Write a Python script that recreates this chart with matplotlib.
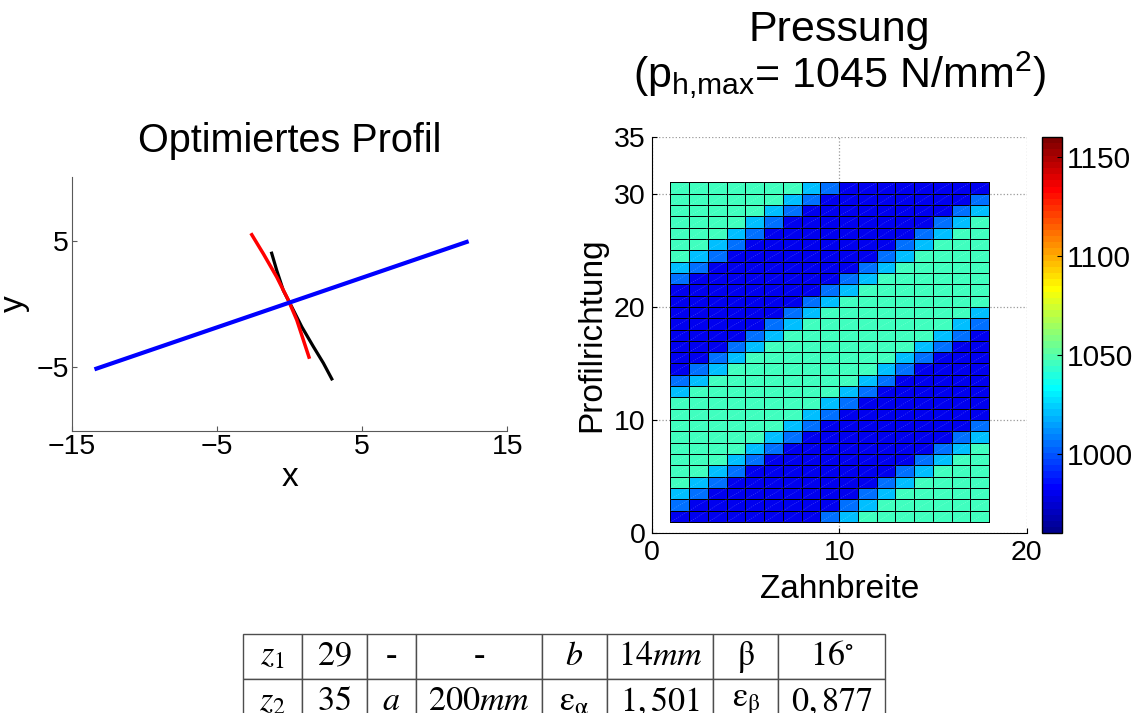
import numpy as np
import matplotlib
matplotlib.use('Agg')
import matplotlib.pyplot as plt
from matplotlib.colors import ListedColormap

plt.rcParams['font.family'] = ['Liberation Sans', 'DejaVu Sans']
plt.rcParams['mathtext.fontset'] = 'custom'
plt.rcParams['mathtext.rm'] = 'Liberation Sans'
plt.rcParams['mathtext.it'] = 'Liberation Sans:italic'
plt.rcParams['mathtext.bf'] = 'Liberation Sans:bold'
plt.rcParams['font.size'] = 20.5

# --- left plot: optimised profile ---
flank_black_x = [-1.23, -0.88, -0.43, 0.15, 0.84, 1.64, 2.33, 2.91]
flank_black_y = [4.01, 2.65, 1.08, -0.22, -1.79, -3.36, -4.66, -5.91]
flank_red_x = [-2.60, -1.80, -0.88, -0.08, 0.50, 0.95, 1.34]
flank_red_y = [5.47, 3.96, 2.13, 0.30, -1.26, -2.83, -4.19]
action_line_x = [-13.3, 12.2]
action_line_y = [-5.1, 4.9]

# --- right plot: pressure map (N/mm^2) ---
zahnbreite = np.arange(1, 19)        # cell edges along face width
profilrichtung = np.arange(1, 32)    # cell edges along profile
pressure_levels = {'D': 980, 'M': 1004, 'L': 1022, 'G': 1045}
# top row first
pressure_rows = [
    'GGGGGGGLMDDDDDDDD',
    'GGGGGGLMDDDDDDDDM',
    'GGGGGLMDDDDDDDDML',
    'GGGGLMDDDDDDDDMLG',
    'GGGLMDDDDDDDDMLGG',
    'GGLMDDDDDDDDMLGGG',
    'GLMDDDDDDDDMLGGGG',
    'LMDDDDDDDDMLGGGGG',
    'MDDDDDDDDMLGGGGGG',
    'DDDDDDDDMLGGGGGGG',
    'DDDDDDDMLGGGGGGGG',
    'DDDDDDMLGGGGGGGGL',
    'DDDDDMLGGGGGGGGLM',
    'DDDDMLGGGGGGGGLMD',
    'DDDMLGGGGGGGGLMDD',
    'DDMLGGGGGGGGLMDDD',
    'DMLGGGGGGGGLMDDDD',
    'MLGGGGGGGGLMDDDDD',
    'LGGGGGGGGLMDDDDDD',
    'GGGGGGGGLMDDDDDDD',
    'GGGGGGGLMDDDDDDDD',
    'GGGGGGLMDDDDDDDDM',
    'GGGGGLMDDDDDDDDML',
    'GGGGLMDDDDDDDDMLG',
    'GGGLMDDDDDDDDMLGG',
    'GGLMDDDDDDDDMLGGG',
    'GLMDDDDDDDDMLGGGG',
    'LMDDDDDDDDMLGGGGG',
    'MDDDDDDDDMLGGGGGG',
    'DDDDDDDDMLGGGGGGG',
]
p_min, p_max = 960, 1160
p_h_max = 1045
cbar_ticks = [1000, 1050, 1100, 1150]

# --- gear data table ---
table_row1 = [r'$z_1$', r'$29$', '-', '-', r'$b$', r'$14mm$',
              r'$\mathrm{\beta}$', r'$16^{\circ}$']
table_row2 = [r'$z_2$', r'$35$', r'$a$', r'$200mm$',
              r'$\mathrm{\varepsilon}_{\mathrm{\alpha}}$', r'$1,501$',
              r'$\mathrm{\varepsilon}_{\mathrm{\beta}}$', r'$0,877$']


def matlab_jet(n=64):
    # same colour steps as MATLAB's jet(n)
    m = int(np.ceil(n / 4))
    u = np.concatenate([np.arange(1, m + 1) / m, np.ones(m - 1), np.arange(m, 0, -1) / m])
    g = int(np.ceil(m / 2)) - (1 if n % 4 == 1 else 0) + np.arange(1, len(u) + 1)
    r = g + m
    b = g - m
    rgb = np.zeros((n, 3))
    ok = r <= n
    rgb[r[ok] - 1, 0] = u[ok]
    ok = g <= n
    rgb[g[ok] - 1, 1] = u[ok]
    ok = b >= 1
    rgb[b[ok] - 1, 2] = u[ok]
    return ListedColormap(rgb)


fig = plt.figure(figsize=(11.39, 7.13), dpi=100)

# left plot
ax1 = fig.add_axes([0.0630, 0.3959, 0.3824, 0.3554])
ax1.plot(flank_black_x, flank_black_y, color='black', lw=2.3)
ax1.plot(flank_red_x, flank_red_y, color='red', lw=2.5)
ax1.plot(action_line_x, action_line_y, color='blue', lw=3.0)
ax1.set_xlim(-15, 15)
ax1.set_ylim(-10, 10)
ax1.set_xticks([-15, -5, 5, 15])
ax1.set_yticks([-5, 5])
for s in ['top', 'right']:
    ax1.spines[s].set_visible(False)
for s in ['left', 'bottom']:
    ax1.spines[s].set_color('0.35')
ax1.tick_params(direction='in', length=3.6, width=0.8, color='0.35', pad=2)
ax1.set_title('Optimiertes Profil', fontsize=28.5, pad=18)
ax1.set_xlabel('x', fontsize=24)
ax1.set_ylabel('y', fontsize=24)
ax1.xaxis.set_label_coords(0.5, -0.125)
ax1.yaxis.set_label_coords(-0.096, 0.5)

# right plot
ax2 = fig.add_axes([0.5722, 0.2520, 0.3292, 0.5558])
pressure = np.array([[pressure_levels[c] for c in row] for row in pressure_rows[::-1]])
mesh = ax2.pcolormesh(zahnbreite, profilrichtung, pressure, cmap=matlab_jet(64),
                      vmin=p_min, vmax=p_max, edgecolors='black', linewidth=0.55)
# faint triangle seams of each cell
xx, yy = np.meshgrid(zahnbreite[:-1], profilrichtung[:-1])
gap = np.full(xx.size, np.nan)
seam_x = np.stack([xx.ravel(), xx.ravel() + 1, gap], axis=1).ravel()
seam_y = np.stack([yy.ravel(), yy.ravel() + 1, gap], axis=1).ravel()
ax2.plot(seam_x, seam_y, color='white', lw=0.4, alpha=0.3, ls=(0, (2, 2)))
ax2.set_xlim(0, 20)
ax2.set_ylim(0, 35)
ax2.set_xticks([0, 10, 20])
ax2.set_yticks([0, 10, 20, 30, 35])
ax2.set_axisbelow(True)
ax2.grid(True, linestyle=':', color='0.6', lw=0.9)
for s in ['top', 'right']:
    ax2.spines[s].set_visible(False)
ax2.tick_params(direction='in', length=3.6, width=0.8)
ax2.tick_params(axis='x', pad=5)
ax2.tick_params(axis='y', pad=4.5)
ax2.set_xlabel('Zahnbreite', fontsize=24)
ax2.set_ylabel('Profilrichtung', fontsize=24)
ax2.xaxis.set_label_coords(0.5, -0.103)
ax2.yaxis.set_label_coords(-0.119, 0.5)
ax2.set_title('Pressung\n' + r'(p$_{\mathrm{h{,}max}}$= %d N/mm$^{2}$)' % p_h_max,
              fontsize=31, pad=35, linespacing=1.0)

cax = fig.add_axes([0.9146, 0.2520, 0.0176, 0.5558])
cb = fig.colorbar(mesh, cax=cax, ticks=cbar_ticks)
cb.ax.tick_params(direction='in', length=3.6, width=0.8, pad=3.6, labelsize=21.5)
cb.outline.set_linewidth(1.0)

# table with gear data
tax = fig.add_axes([0.2131, -0.0163, 0.5639, 0.1271])
tax.axis('off')
tab = tax.table(cellText=[table_row1, table_row2], cellLoc='center',
                colWidths=[59, 65, 49, 126.6, 64.4, 106.6, 65, 106.7],
                bbox=[0, 0, 1, 1])
tab.auto_set_font_size(False)
for cell in tab.get_celld().values():
    cell.set_edgecolor('0.3')
    cell.set_linewidth(1.0)
    txt = cell.get_text()
    txt.set_fontsize(24.5)
    txt.set_fontfamily('Liberation Serif')
    txt.set_math_fontfamily('stix')

fig.savefig('out.png', dpi=100)
